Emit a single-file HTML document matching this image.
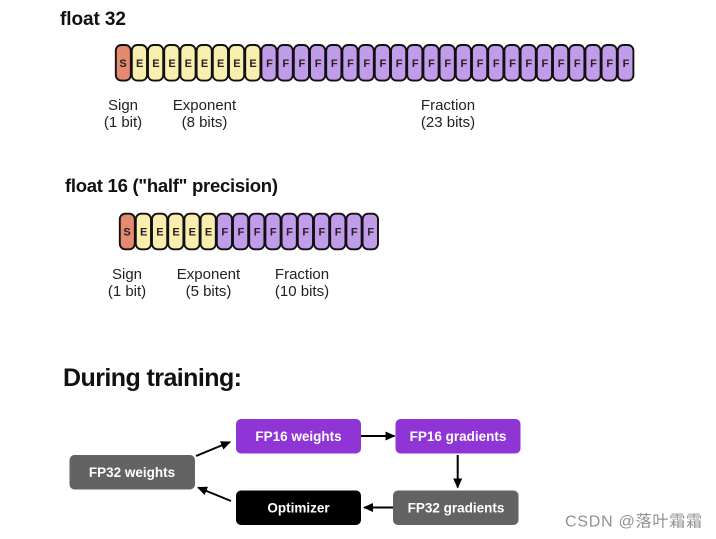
<!DOCTYPE html>
<html><head><meta charset="utf-8"><style>
html,body{margin:0;padding:0;background:#fff}
svg{display:block;font-family:"Liberation Sans","Noto Sans CJK SC",sans-serif}
.l{font-size:15px;fill:#222;text-anchor:middle}
.c{font-size:11px;font-weight:bold;fill:#222;text-anchor:middle}
.t{font-weight:bold;fill:#111}
.b{font-size:13.5px;font-weight:bold;fill:#fff;text-anchor:middle}
.a{stroke:#000;stroke-width:2;fill:none}
.g rect{stroke:#111;stroke-width:1.9}
</style></head><body>
<svg width="716" height="539" viewBox="0 0 716 539" xmlns="http://www.w3.org/2000/svg">
<defs><marker id="m" markerWidth="11" markerHeight="10" refX="9" refY="5" orient="auto" markerUnits="userSpaceOnUse"><path d="M0 0.5L10 5L0 9.5Z" fill="#000"/></marker></defs>
<text class="t" x="60" y="25" font-size="19" textLength="66">float 32</text>
<g class="g">
<rect x="115.8" y="45" width="15" height="35.6" rx="5.5" fill="#e58a70"/>
<rect x="131.8" y="45" width="15.2" height="35.6" rx="5.5" fill="#f9eeae"/>
<rect x="148" y="45" width="15.2" height="35.6" rx="5.5" fill="#f9eeae"/>
<rect x="164.2" y="45" width="15.2" height="35.6" rx="5.5" fill="#f9eeae"/>
<rect x="180.4" y="45" width="15.2" height="35.6" rx="5.5" fill="#f9eeae"/>
<rect x="196.6" y="45" width="15.2" height="35.6" rx="5.5" fill="#f9eeae"/>
<rect x="212.8" y="45" width="15.2" height="35.6" rx="5.5" fill="#f9eeae"/>
<rect x="229" y="45" width="15.2" height="35.6" rx="5.5" fill="#f9eeae"/>
<rect x="245.2" y="45" width="15.2" height="35.6" rx="5.5" fill="#f9eeae"/>
<rect x="261.4" y="45" width="15.2" height="35.6" rx="5.5" fill="#c19ce8"/>
<rect x="277.6" y="45" width="15.2" height="35.6" rx="5.5" fill="#c19ce8"/>
<rect x="293.8" y="45" width="15.2" height="35.6" rx="5.5" fill="#c19ce8"/>
<rect x="310" y="45" width="15.2" height="35.6" rx="5.5" fill="#c19ce8"/>
<rect x="326.2" y="45" width="15.2" height="35.6" rx="5.5" fill="#c19ce8"/>
<rect x="342.4" y="45" width="15.2" height="35.6" rx="5.5" fill="#c19ce8"/>
<rect x="358.6" y="45" width="15.2" height="35.6" rx="5.5" fill="#c19ce8"/>
<rect x="374.8" y="45" width="15.2" height="35.6" rx="5.5" fill="#c19ce8"/>
<rect x="391" y="45" width="15.2" height="35.6" rx="5.5" fill="#c19ce8"/>
<rect x="407.2" y="45" width="15.2" height="35.6" rx="5.5" fill="#c19ce8"/>
<rect x="423.4" y="45" width="15.2" height="35.6" rx="5.5" fill="#c19ce8"/>
<rect x="439.6" y="45" width="15.2" height="35.6" rx="5.5" fill="#c19ce8"/>
<rect x="455.8" y="45" width="15.2" height="35.6" rx="5.5" fill="#c19ce8"/>
<rect x="472" y="45" width="15.2" height="35.6" rx="5.5" fill="#c19ce8"/>
<rect x="488.2" y="45" width="15.2" height="35.6" rx="5.5" fill="#c19ce8"/>
<rect x="504.4" y="45" width="15.2" height="35.6" rx="5.5" fill="#c19ce8"/>
<rect x="520.6" y="45" width="15.2" height="35.6" rx="5.5" fill="#c19ce8"/>
<rect x="536.8" y="45" width="15.2" height="35.6" rx="5.5" fill="#c19ce8"/>
<rect x="553" y="45" width="15.2" height="35.6" rx="5.5" fill="#c19ce8"/>
<rect x="569.2" y="45" width="15.2" height="35.6" rx="5.5" fill="#c19ce8"/>
<rect x="585.4" y="45" width="15.2" height="35.6" rx="5.5" fill="#c19ce8"/>
<rect x="601.6" y="45" width="15.2" height="35.6" rx="5.5" fill="#c19ce8"/>
<rect x="617.8" y="45" width="15.6" height="35.6" rx="5.5" fill="#c19ce8"/>
</g>
<g>
<text class="c" x="123" y="67">S</text>
<text class="c" x="139.7" y="67">E</text><text class="c" x="155.9" y="67">E</text><text class="c" x="172.1" y="67">E</text><text class="c" x="188.3" y="67">E</text><text class="c" x="204.5" y="67">E</text><text class="c" x="220.7" y="67">E</text><text class="c" x="236.9" y="67">E</text><text class="c" x="253.1" y="67">E</text>
<text class="c" x="269.5" y="67">F</text><text class="c" x="285.7" y="67">F</text><text class="c" x="301.9" y="67">F</text><text class="c" x="318.1" y="67">F</text><text class="c" x="334.3" y="67">F</text><text class="c" x="350.5" y="67">F</text><text class="c" x="366.7" y="67">F</text><text class="c" x="382.9" y="67">F</text><text class="c" x="399.1" y="67">F</text><text class="c" x="415.3" y="67">F</text><text class="c" x="431.5" y="67">F</text><text class="c" x="447.7" y="67">F</text><text class="c" x="463.9" y="67">F</text><text class="c" x="480.1" y="67">F</text><text class="c" x="496.3" y="67">F</text><text class="c" x="512.5" y="67">F</text><text class="c" x="528.7" y="67">F</text><text class="c" x="544.9" y="67">F</text><text class="c" x="561.1" y="67">F</text><text class="c" x="577.3" y="67">F</text><text class="c" x="593.5" y="67">F</text><text class="c" x="609.7" y="67">F</text><text class="c" x="626" y="67">F</text>
</g>
<text class="l" x="123" y="110">Sign</text><text class="l" x="123" y="127">(1 bit)</text>
<text class="l" x="204.5" y="110">Exponent</text><text class="l" x="204.5" y="127">(8 bits)</text>
<text class="l" x="448" y="110">Fraction</text><text class="l" x="448" y="127">(23 bits)</text>

<text class="t" x="65" y="192" font-size="18.5" textLength="213">float 16 ("half" precision)</text>
<g class="g">
<rect x="119.8" y="213.7" width="15" height="35.6" rx="5.5" fill="#e58a70"/>
<rect x="135.8" y="213.7" width="15.2" height="35.6" rx="5.5" fill="#f9eeae"/>
<rect x="152" y="213.7" width="15.2" height="35.6" rx="5.5" fill="#f9eeae"/>
<rect x="168.2" y="213.7" width="15.2" height="35.6" rx="5.5" fill="#f9eeae"/>
<rect x="184.4" y="213.7" width="15.2" height="35.6" rx="5.5" fill="#f9eeae"/>
<rect x="200.6" y="213.7" width="15.2" height="35.6" rx="5.5" fill="#f9eeae"/>
<rect x="216.8" y="213.7" width="15.2" height="35.6" rx="5.5" fill="#c19ce8"/>
<rect x="233" y="213.7" width="15.2" height="35.6" rx="5.5" fill="#c19ce8"/>
<rect x="249.2" y="213.7" width="15.2" height="35.6" rx="5.5" fill="#c19ce8"/>
<rect x="265.4" y="213.7" width="15.2" height="35.6" rx="5.5" fill="#c19ce8"/>
<rect x="281.6" y="213.7" width="15.2" height="35.6" rx="5.5" fill="#c19ce8"/>
<rect x="297.8" y="213.7" width="15.2" height="35.6" rx="5.5" fill="#c19ce8"/>
<rect x="314" y="213.7" width="15.2" height="35.6" rx="5.5" fill="#c19ce8"/>
<rect x="330.2" y="213.7" width="15.2" height="35.6" rx="5.5" fill="#c19ce8"/>
<rect x="346.4" y="213.7" width="15.2" height="35.6" rx="5.5" fill="#c19ce8"/>
<rect x="362.6" y="213.7" width="15.4" height="35.6" rx="5.5" fill="#c19ce8"/>
</g>
<g>
<text class="c" x="127" y="235.5">S</text>
<text class="c" x="143.7" y="235.5">E</text><text class="c" x="159.9" y="235.5">E</text><text class="c" x="176.1" y="235.5">E</text><text class="c" x="192.3" y="235.5">E</text><text class="c" x="208.5" y="235.5">E</text>
<text class="c" x="224.7" y="235.5">F</text><text class="c" x="240.9" y="235.5">F</text><text class="c" x="257.1" y="235.5">F</text><text class="c" x="273.3" y="235.5">F</text><text class="c" x="289.5" y="235.5">F</text><text class="c" x="305.7" y="235.5">F</text><text class="c" x="321.9" y="235.5">F</text><text class="c" x="338.1" y="235.5">F</text><text class="c" x="354.3" y="235.5">F</text><text class="c" x="370.7" y="235.5">F</text>
</g>
<text class="l" x="127" y="279">Sign</text><text class="l" x="127" y="296">(1 bit)</text>
<text class="l" x="208.5" y="279">Exponent</text><text class="l" x="208.5" y="296">(5 bits)</text>
<text class="l" x="302" y="279">Fraction</text><text class="l" x="302" y="296">(10 bits)</text>

<text class="t" x="63" y="386" font-size="25" textLength="179">During training:</text>

<rect x="236" y="419" width="125" height="34.5" rx="5" fill="#8f35d6"/>
<rect x="395.5" y="419" width="125" height="34.5" rx="5" fill="#8f35d6"/>
<rect x="69.5" y="455" width="125.5" height="34.5" rx="5" fill="#636363"/>
<rect x="236" y="490.5" width="125" height="34.5" rx="5" fill="#000"/>
<rect x="393" y="490.5" width="125.5" height="34.5" rx="5" fill="#636363"/>
<text class="b" x="298.5" y="441">FP16 weights</text>
<text class="b" x="458" y="441">FP16 gradients</text>
<text class="b" x="132" y="477">FP32 weights</text>
<text class="b" x="298.5" y="512.5">Optimizer</text>
<text class="b" x="456" y="512.5">FP32 gradients</text>

<path class="a" d="M196 456L230 442" marker-end="url(#m)"/>
<path class="a" d="M231 501L198 487.5" marker-end="url(#m)"/>
<path class="a" d="M361 436L394.5 436" marker-end="url(#m)"/>
<path class="a" d="M457.7 455L457.7 487.5" marker-end="url(#m)"/>
<path class="a" d="M393 507.5L364 507.5" marker-end="url(#m)"/>

<text x="565" y="526.5" font-size="16" fill="#919191" textLength="137">CSDN @落叶霜霜</text>
</svg>
</body></html>
